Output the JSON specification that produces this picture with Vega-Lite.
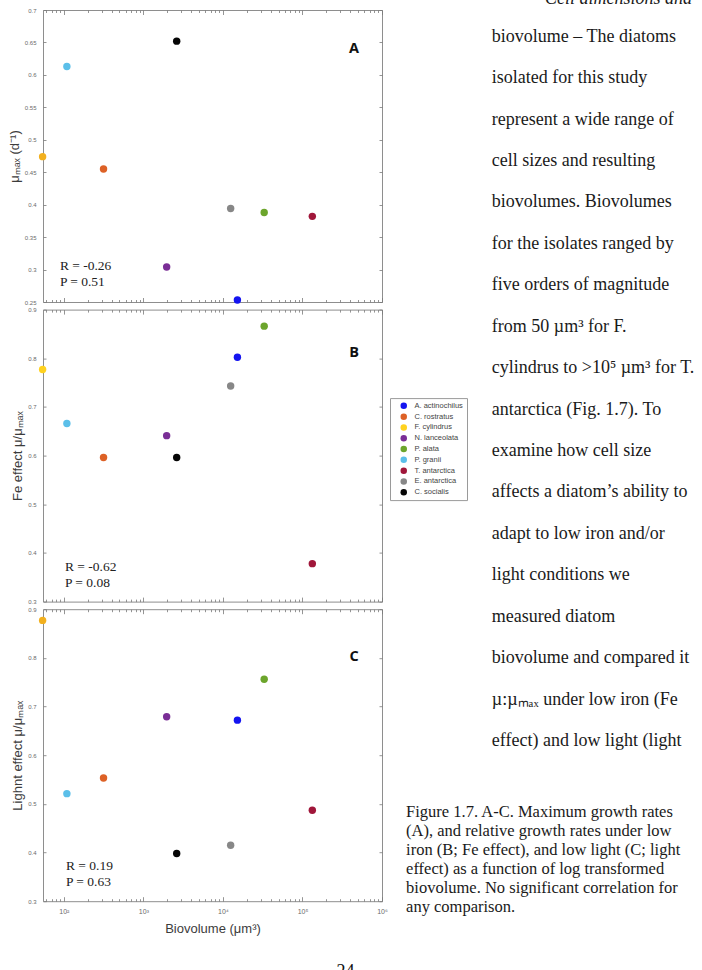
{
  "$schema": "https://vega.github.io/schema/vega-lite/v6.json",
  "autosize": {"type": "none"},
  "padding": {"left": 43, "top": 10, "right": 659, "bottom": 960},
  "background": "white",
  "datasets": {
    "diatoms": [
      {"species": "A. actinochilus", "biovolume": 15200, "mu_max": 0.253, "fe_effect": 0.802, "light_effect": 0.672},
      {"species": "C. rostratus", "biovolume": 315, "mu_max": 0.455, "fe_effect": 0.596, "light_effect": 0.553},
      {"species": "F. cylindrus", "biovolume": 54, "mu_max": 0.474, "fe_effect": 0.777, "light_effect": 0.877},
      {"species": "N. lanceolata", "biovolume": 1960, "mu_max": 0.304, "fe_effect": 0.641, "light_effect": 0.679},
      {"species": "P. alata", "biovolume": 33000, "mu_max": 0.388, "fe_effect": 0.866, "light_effect": 0.756},
      {"species": "P. granii", "biovolume": 109, "mu_max": 0.613, "fe_effect": 0.666, "light_effect": 0.521},
      {"species": "T. antarctica", "biovolume": 133000, "mu_max": 0.382, "fe_effect": 0.378, "light_effect": 0.487},
      {"species": "E. antarctica", "biovolume": 12500, "mu_max": 0.394, "fe_effect": 0.743, "light_effect": 0.415},
      {"species": "C. socialis", "biovolume": 2620, "mu_max": 0.652, "fe_effect": 0.596, "light_effect": 0.398}
    ],
    "page_text": [
      {"block": "body", "line": 0, "text": "Cell dimensions and"},
      {"block": "body", "line": 1, "text": "biovolume – The diatoms"},
      {"block": "body", "line": 2, "text": "isolated for this study"},
      {"block": "body", "line": 3, "text": "represent a wide range of"},
      {"block": "body", "line": 4, "text": "cell sizes and resulting"},
      {"block": "body", "line": 5, "text": "biovolumes. Biovolumes"},
      {"block": "body", "line": 6, "text": "for the isolates ranged by"},
      {"block": "body", "line": 7, "text": "five orders of magnitude"},
      {"block": "body", "line": 8, "text": "from 50 µm³ for F."},
      {"block": "body", "line": 9, "text": "cylindrus to >10⁵ µm³ for T."},
      {"block": "body", "line": 10, "text": "antarctica (Fig. 1.7). To"},
      {"block": "body", "line": 11, "text": "examine how cell size"},
      {"block": "body", "line": 12, "text": "affects a diatom’s ability to"},
      {"block": "body", "line": 13, "text": "adapt to low iron and/or"},
      {"block": "body", "line": 14, "text": "light conditions we"},
      {"block": "body", "line": 15, "text": "measured diatom"},
      {"block": "body", "line": 16, "text": "biovolume and compared it"},
      {"block": "body", "line": 17, "text": "µ:µₘₐₓ under low iron (Fe"},
      {"block": "body", "line": 18, "text": "effect) and low light (light"},
      {"block": "caption", "line": 0, "text": "Figure 1.7. A-C. Maximum growth rates"},
      {"block": "caption", "line": 1, "text": "(A), and relative growth rates under low"},
      {"block": "caption", "line": 2, "text": "iron (B; Fe effect), and low light (C; light"},
      {"block": "caption", "line": 3, "text": "effect) as a function of log transformed"},
      {"block": "caption", "line": 4, "text": "biovolume. No significant correlation for"},
      {"block": "caption", "line": 5, "text": "any comparison."}
    ]
  },
  "config": {
    "view": {"stroke": "#8e8e8e", "strokeWidth": 1},
    "axis": {
      "domain": false,
      "grid": false,
      "tickColor": "#7a7a7a",
      "tickWidth": 0.8,
      "labelFont": "Liberation Sans",
      "labelColor": "#6a6a6a",
      "titleFont": "Liberation Sans",
      "titleFontWeight": "normal",
      "titleColor": "#3c3c3c"
    }
  },
  "spacing": -62.3,
  "hconcat": [
    {
      "spacing": 7.6,
      "bounds": "flush",
      "resolve": {"scale": {"color": "independent"}},
      "vconcat": [
        {
          "width": 339,
          "height": 292,
          "data": {"name": "diatoms"},
          "resolve": {"axis": {"x": "independent", "y": "independent"}},
          "layer": [
            {
              "mark": {"type": "point", "filled": true, "size": 55, "opacity": 1},
              "encoding": {
                "x": {"field": "biovolume", "type": "quantitative",
                  "scale": {"type": "log", "domain": [54.6, 1000000], "nice": false},
                  "axis": {"orient": "bottom", "labels": false, "title": null,
                    "values": [60,70,80,90,100,200,300,400,500,600,700,800,900,1000,2000,3000,4000,5000,6000,7000,8000,9000,10000,20000,30000,40000,50000,60000,70000,80000,90000,100000,200000,300000,400000,500000,600000,700000,800000,900000,1000000],
                    "tickSize": {"condition": {"test": "indexof([100,1000,10000,100000,1000000], datum.value) >= 0", "value": -4.5}, "value": -2.5}}},
                "y": {"field": "mu_max", "type": "quantitative",
                  "scale": {"domain": [0.25, 0.7], "nice": false, "zero": false},
                  "axis": {"orient": "left", "values": [0.25,0.3,0.35,0.4,0.45,0.5,0.55,0.6,0.65,0.7], "format": ".2~f",
                    "labelFontSize": 6, "labelPadding": 10, "tickSize": -3,
                    "title": "μₘₐₓ (d⁻¹)", "titleFontSize": 13, "titlePadding": 3}},
                "color": {"field": "species", "type": "nominal", "legend": null,
                  "scale": {"domain": ["A. actinochilus","C. rostratus","F. cylindrus","N. lanceolata","P. alata","P. granii","T. antarctica","E. antarctica","C. socialis"],
                    "range": ["#1414f0","#dd6126","#f2b01e","#7a2e96","#6ca52c","#5bbfe9","#a0163a","#878787","#050505"]}}
              }
            },
            {
              "mark": {"type": "point", "opacity": 0},
              "encoding": {
                "x": {"field": "biovolume", "type": "quantitative",
                  "axis": {"orient": "top", "labels": false, "title": null,
                    "values": [60,70,80,90,100,200,300,400,500,600,700,800,900,1000,2000,3000,4000,5000,6000,7000,8000,9000,10000,20000,30000,40000,50000,60000,70000,80000,90000,100000,200000,300000,400000,500000,600000,700000,800000,900000,1000000],
                    "tickSize": {"condition": {"test": "indexof([100,1000,10000,100000,1000000], datum.value) >= 0", "value": -4.5}, "value": -2.5}}},
                "y": {"field": "mu_max", "type": "quantitative",
                  "axis": {"orient": "right", "labels": false, "title": null, "tickSize": -3,
                    "values": [0.25,0.3,0.35,0.4,0.45,0.5,0.55,0.6,0.65,0.7]}}
              }
            },
            {
              "data": {"values": [{}]},
              "mark": {"type": "text", "text": ["R = -0.26", "P = 0.51"], "align": "left", "baseline": "alphabetic",
                "font": "Liberation Serif", "fontSize": 13.5, "lineHeight": 15.5, "color": "#222"},
              "encoding": {"x": {"datum": 89, "type": "quantitative", "axis": null}, "y": {"datum": 0.2986, "type": "quantitative", "axis": null}}
            },
            {
              "data": {"values": [{}]},
              "mark": {"type": "text", "text": "A", "align": "center", "baseline": "middle",
                "font": "Open Sans", "fontWeight": "bold", "fontSize": 14.5, "color": "#111"},
              "encoding": {"x": {"datum": 445000, "type": "quantitative", "axis": null}, "y": {"datum": 0.64, "type": "quantitative", "axis": null}}
            }
          ]
        },
        {
          "width": 339,
          "height": 292,
          "data": {"name": "diatoms"},
          "resolve": {"axis": {"x": "independent", "y": "independent"}},
          "layer": [
            {
              "mark": {"type": "point", "filled": true, "size": 55, "opacity": 1},
              "encoding": {
                "x": {"field": "biovolume", "type": "quantitative",
                  "scale": {"type": "log", "domain": [54.6, 1000000], "nice": false},
                  "axis": {"orient": "bottom", "labels": false, "title": null,
                    "values": [60,70,80,90,100,200,300,400,500,600,700,800,900,1000,2000,3000,4000,5000,6000,7000,8000,9000,10000,20000,30000,40000,50000,60000,70000,80000,90000,100000,200000,300000,400000,500000,600000,700000,800000,900000,1000000],
                    "tickSize": {"condition": {"test": "indexof([100,1000,10000,100000,1000000], datum.value) >= 0", "value": -4.5}, "value": -2.5}}},
                "y": {"field": "fe_effect", "type": "quantitative",
                  "scale": {"domain": [0.3, 0.9], "nice": false, "zero": false},
                  "axis": {"orient": "left", "values": [0.3,0.4,0.5,0.6,0.7,0.8,0.9], "format": ".1~f",
                    "labelFontSize": 6, "labelPadding": 10, "tickSize": -3,
                    "title": "Fe effect μ/μₘₐₓ", "titleFontSize": 13, "titlePadding": 3}},
                "color": {"field": "species", "type": "nominal",
                  "scale": {"domain": ["A. actinochilus","C. rostratus","F. cylindrus","N. lanceolata","P. alata","P. granii","T. antarctica","E. antarctica","C. socialis"],
                    "range": ["#1414f0","#dd6126","#ffd21f","#7a2e96","#6ca52c","#5bbfe9","#a0163a","#878787","#050505"]},
                  "legend": {"orient": "none", "legendX": 347, "legendY": 88.5, "title": null, "direction": "vertical",
                    "strokeColor": "#9a9a9a", "fillColor": "white", "padding": 4,
                    "symbolType": "circle", "symbolSize": 42, "symbolStrokeWidth": 0, "symbolOffset": 6,
                    "labelFont": "Liberation Sans", "labelFontSize": 7.5, "labelColor": "#444", "labelOffset": 7,
                    "rowPadding": 1.8, "labelLimit": 0}}
              }
            },
            {
              "mark": {"type": "point", "opacity": 0},
              "encoding": {
                "x": {"field": "biovolume", "type": "quantitative",
                  "axis": {"orient": "top", "labels": false, "title": null,
                    "values": [60,70,80,90,100,200,300,400,500,600,700,800,900,1000,2000,3000,4000,5000,6000,7000,8000,9000,10000,20000,30000,40000,50000,60000,70000,80000,90000,100000,200000,300000,400000,500000,600000,700000,800000,900000,1000000],
                    "tickSize": {"condition": {"test": "indexof([100,1000,10000,100000,1000000], datum.value) >= 0", "value": -4.5}, "value": -2.5}}},
                "y": {"field": "fe_effect", "type": "quantitative",
                  "axis": {"orient": "right", "labels": false, "title": null, "tickSize": -3,
                    "values": [0.3,0.4,0.5,0.6,0.7,0.8,0.9]}}
              }
            },
            {
              "data": {"values": [{}]},
              "mark": {"type": "text", "text": ["R = -0.62", "P = 0.08"], "align": "left", "baseline": "alphabetic",
                "font": "Liberation Serif", "fontSize": 13.5, "lineHeight": 15.5, "color": "#222"},
              "encoding": {"x": {"datum": 103, "type": "quantitative", "axis": null}, "y": {"datum": 0.3623, "type": "quantitative", "axis": null}}
            },
            {
              "data": {"values": [{}]},
              "mark": {"type": "text", "text": "B", "align": "center", "baseline": "middle",
                "font": "Open Sans", "fontWeight": "bold", "fontSize": 14.5, "color": "#111"},
              "encoding": {"x": {"datum": 445000, "type": "quantitative", "axis": null}, "y": {"datum": 0.81, "type": "quantitative", "axis": null}}
            }
          ]
        },
        {
          "width": 339,
          "height": 292,
          "data": {"name": "diatoms"},
          "resolve": {"axis": {"x": "independent", "y": "independent"}},
          "layer": [
            {
              "mark": {"type": "point", "filled": true, "size": 55, "opacity": 1},
              "encoding": {
                "x": {"field": "biovolume", "type": "quantitative",
                  "scale": {"type": "log", "domain": [54.6, 1000000], "nice": false},
                  "axis": {"orient": "bottom", "title": "Biovolume (μm³)", "titleFontSize": 13, "titlePadding": 6,
                    "values": [60,70,80,90,100,200,300,400,500,600,700,800,900,1000,2000,3000,4000,5000,6000,7000,8000,9000,10000,20000,30000,40000,50000,60000,70000,80000,90000,100000,200000,300000,400000,500000,600000,700000,800000,900000,1000000],
                    "labelExpr": "datum.value == 100 ? '10²' : datum.value == 1000 ? '10³' : datum.value == 10000 ? '10⁴' : datum.value == 100000 ? '10⁵' : datum.value == 1000000 ? '10⁶' : ''",
                    "labelOverlap": false, "labelFontSize": 7, "labelPadding": 11, "labelFlush": false,
                    "tickSize": {"condition": {"test": "indexof([100,1000,10000,100000,1000000], datum.value) >= 0", "value": -4.5}, "value": -2.5}}},
                "y": {"field": "light_effect", "type": "quantitative",
                  "scale": {"domain": [0.3, 0.9], "nice": false, "zero": false},
                  "axis": {"orient": "left", "values": [0.3,0.4,0.5,0.6,0.7,0.8,0.9], "format": ".1~f",
                    "labelFontSize": 6, "labelPadding": 10, "tickSize": -3,
                    "title": "Lighnt effect μ/μₘₐₓ", "titleFontSize": 13, "titlePadding": 3}},
                "color": {"field": "species", "type": "nominal", "legend": null,
                  "scale": {"domain": ["A. actinochilus","C. rostratus","F. cylindrus","N. lanceolata","P. alata","P. granii","T. antarctica","E. antarctica","C. socialis"],
                    "range": ["#1414f0","#dd6126","#f2b01e","#7a2e96","#6ca52c","#5bbfe9","#a0163a","#878787","#050505"]}}
              }
            },
            {
              "mark": {"type": "point", "opacity": 0},
              "encoding": {
                "x": {"field": "biovolume", "type": "quantitative",
                  "axis": {"orient": "top", "labels": false, "title": null,
                    "values": [60,70,80,90,100,200,300,400,500,600,700,800,900,1000,2000,3000,4000,5000,6000,7000,8000,9000,10000,20000,30000,40000,50000,60000,70000,80000,90000,100000,200000,300000,400000,500000,600000,700000,800000,900000,1000000],
                    "tickSize": {"condition": {"test": "indexof([100,1000,10000,100000,1000000], datum.value) >= 0", "value": -4.5}, "value": -2.5}}},
                "y": {"field": "light_effect", "type": "quantitative",
                  "axis": {"orient": "right", "labels": false, "title": null, "tickSize": -3,
                    "values": [0.3,0.4,0.5,0.6,0.7,0.8,0.9]}}
              }
            },
            {
              "data": {"values": [{}]},
              "mark": {"type": "text", "text": ["R = 0.19", "P = 0.63"], "align": "left", "baseline": "alphabetic",
                "font": "Liberation Serif", "fontSize": 13.5, "lineHeight": 15.5, "color": "#222"},
              "encoding": {"x": {"datum": 106, "type": "quantitative", "axis": null}, "y": {"datum": 0.3635, "type": "quantitative", "axis": null}}
            },
            {
              "data": {"values": [{}]},
              "mark": {"type": "text", "text": "C", "align": "center", "baseline": "middle",
                "font": "Open Sans", "fontWeight": "bold", "fontSize": 14.5, "color": "#111"},
              "encoding": {"x": {"datum": 445000, "type": "quantitative", "axis": null}, "y": {"datum": 0.802, "type": "quantitative", "axis": null}}
            },
            {
              "data": {"values": [{}]},
              "mark": {"type": "text", "text": "24", "align": "center", "baseline": "alphabetic",
                "font": "Liberation Serif", "fontSize": 18, "color": "#111"},
              "encoding": {"x": {"datum": 348000, "type": "quantitative", "axis": null}, "y": {"datum": 0.145, "type": "quantitative", "axis": null}}
            }
          ]
        }
      ]
    },
    {
      "width": 230,
      "height": 960,
      "view": {"stroke": null},
      "data": {"name": "page_text"},
      "resolve": {"scale": {"x": "independent", "y": "independent"}},
      "layer": [
        {
          "transform": [{"filter": "datum.block == 'body' && datum.line == 0"}],
          "mark": {"type": "text", "align": "left", "baseline": "middle", "font": "Liberation Serif", "fontSize": 18, "fontStyle": "italic", "color": "#1a1a1a"},
          "encoding": {
            "x": {"field": "block", "type": "nominal", "scale": {"type": "point", "domain": ["caption", "body"], "range": [-9.3, 76.4], "padding": 0}, "axis": null},
            "y": {"field": "line", "type": "quantitative", "scale": {"domain": [0, 18], "range": [-11, 731]}, "axis": null},
            "text": {"field": "text"}
          }
        },
        {
          "transform": [{"filter": "datum.block == 'body' && datum.line > 0"}],
          "mark": {"type": "text", "align": "left", "baseline": "middle", "font": "Liberation Serif", "fontSize": 18, "color": "#1a1a1a"},
          "encoding": {
            "x": {"field": "block", "type": "nominal", "scale": {"type": "point", "domain": ["caption", "body"], "range": [-62.6, 23.1], "padding": 0}, "axis": null},
            "y": {"field": "line", "type": "quantitative", "scale": {"domain": [0, 18], "range": [-14.7, 731]}, "axis": null},
            "text": {"field": "text"}
          }
        },
        {
          "transform": [{"filter": "datum.block == 'caption'"}],
          "mark": {"type": "text", "align": "left", "baseline": "middle", "font": "Liberation Serif", "fontSize": 16.5, "color": "#1a1a1a"},
          "encoding": {
            "x": {"field": "block", "type": "nominal", "scale": {"type": "point", "domain": ["caption", "body"], "range": [-62.6, 23.1], "padding": 0}, "axis": null},
            "y": {"field": "line", "type": "quantitative", "scale": {"domain": [0, 5], "range": [802.3, 896.7]}, "axis": null},
            "text": {"field": "text"}
          }
        }
      ]
    }
  ]
}
